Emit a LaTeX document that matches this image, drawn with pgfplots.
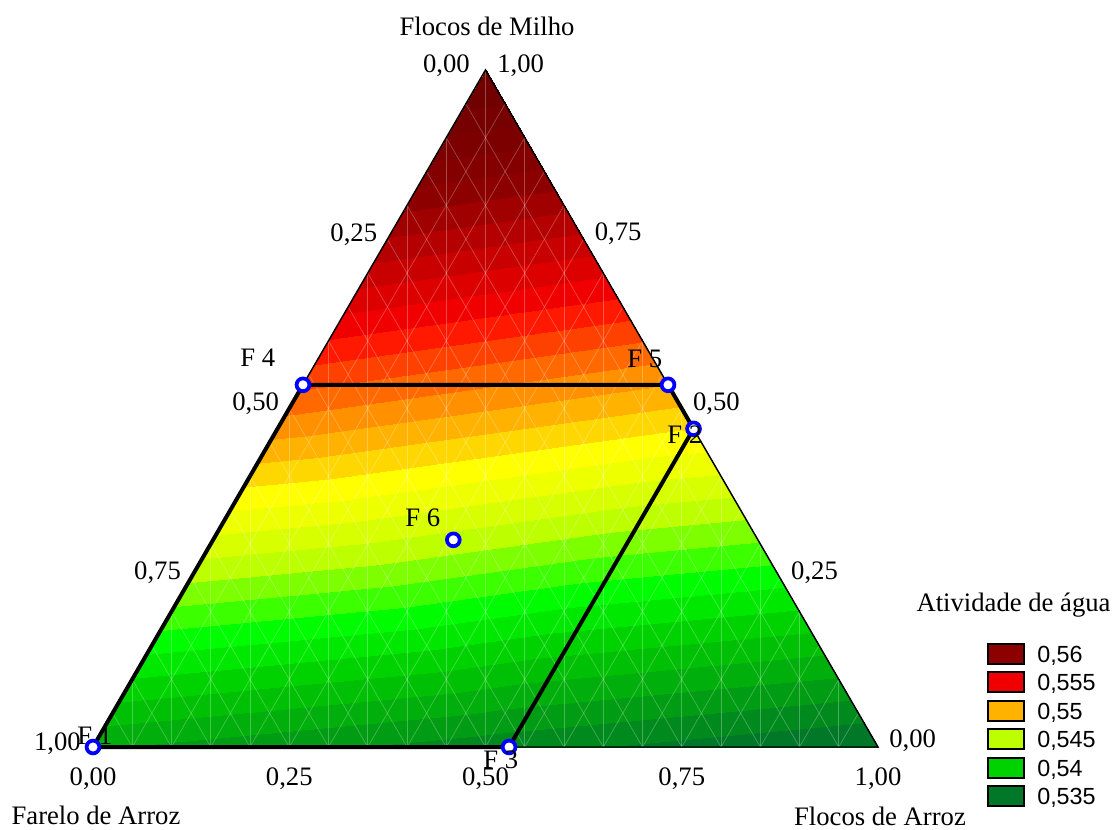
\documentclass[border=0pt]{standalone}
\usepackage{pgfplots}
\usepackage{pgfplotstable}
\pgfplotsset{compat=1.18}
\usepackage{fontspec}
\setmainfont{Liberation Serif}
\newfontfamily\legendfont{Liberation Sans}

% water-activity colour steps, one per 0.001 from 0.534 to 0.565
\pgfplotsset{
  colormap={aw}{
    rgb255=(0,105,50)   % 0.534
    rgb255=(0,120,40)   % 0.535
    rgb255=(0,138,30)
    rgb255=(0,156,20)
    rgb255=(0,174,12)
    rgb255=(0,192,5)
    rgb255=(0,210,0)    % 0.540
    rgb255=(0,232,0)
    rgb255=(0,252,0)
    rgb255=(60,255,0)
    rgb255=(125,255,0)
    rgb255=(190,255,0)  % 0.545
    rgb255=(215,255,0)
    rgb255=(238,255,0)
    rgb255=(255,255,0)
    rgb255=(255,215,0)
    rgb255=(255,178,0)  % 0.550
    rgb255=(255,145,0)
    rgb255=(255,105,0)
    rgb255=(255,65,0)
    rgb255=(255,25,0)
    rgb255=(240,0,0)    % 0.555
    rgb255=(220,0,0)
    rgb255=(200,0,0)
    rgb255=(180,0,0)
    rgb255=(160,0,0)
    rgb255=(140,0,0)    % 0.560
    rgb255=(132,0,0)
    rgb255=(125,0,0)
    rgb255=(119,0,0)
    rgb255=(113,0,0)    % 0.564
    rgb255=(113,0,0)
  }
}

% design points: Farelo de Arroz, Flocos de Milho, Flocos de Arroz
\pgfplotstableread{
farelo milho arroz
1.000  0.000  0.000
0.465  0.535  0.000
0.000  0.535  0.465
0.000  0.470  0.530
0.470  0.000  0.530
1.000  0.000  0.000
}\regiao
\pgfplotstableread{
farelo milho arroz
1.000  0.000  0.000
0.470  0.000  0.530
0.465  0.535  0.000
0.000  0.535  0.465
0.000  0.470  0.530
0.388  0.306  0.306
}\pontos

\tikzset{gridline/.style={white, opacity=0.28, line width=0.5pt}}

\begin{document}
\begin{tikzpicture}
\begin{scope}[x=0.75pt, y=-0.75pt]
  \path[use as bounding box] (0,0) rectangle (1113,830);
\end{scope}

\begin{axis}[
  at={(69.75pt,-560.25pt)}, anchor=south west,
  scale only axis, width=588.75pt, height=507.75pt,
  xmin=0, xmax=1, ymin=0, ymax=1,
  hide axis, clip=false,
  colormap name=aw,
  colormap access=piecewise constant,
  point meta min=0.534, point meta max=0.565,
]
% fitted surface (x = arroz + milho/2, y = milho)
\addplot[patch, patch type=triangle, shader=interp, point meta=explicit]
  coordinates {
    (0,0) [0.5380]   (0.5,0) [0.5364]    (0.25,0.5) [0.5517]
    (0.5,0) [0.5364] (1,0) [0.5349]      (0.75,0.5) [0.5494]
    (0.25,0.5) [0.5517] (0.75,0.5) [0.5494] (0.5,1) [0.5646]
    (0.5,0) [0.5364] (0.75,0.5) [0.5494] (0.25,0.5) [0.5517]
  };

% faint ternary grid
\pgfplotsinvokeforeach{1,...,19}{
  \draw[gridline] (axis cs:{0.05*#1},0) -- (axis cs:{0.05*#1},{min(0.1*#1,2-0.1*#1)});
  \draw[gridline] (axis cs:{0.05*#1},0) -- (axis cs:{(1+0.05*#1)/2},{1-0.05*#1});
  \draw[gridline] (axis cs:{1-0.05*#1},0) -- (axis cs:{(1-0.05*#1)/2},{1-0.05*#1});
}

% triangle outline
\addplot[black, line width=1.1pt] coordinates {(0,0) (1,0) (0.5,1) (0,0)};

% experimental region
\addplot[black, line width=3pt]
  table[x expr=\thisrow{arroz}+0.5*\thisrow{milho}, y=milho] {\regiao};

% design points
\addplot[only marks, blue, line width=2.8pt, mark=*, mark size=4.8pt,
  mark options={draw=blue, fill=white, line width=2.8pt}]
  table[x expr=\thisrow{arroz}+0.5*\thisrow{milho}, y=milho] {\pontos};
\end{axis}

\begin{scope}[x=0.75pt, y=-0.75pt, every node/.style={inner sep=0pt, font=\fontsize{20}{24}\selectfont}]
  % axis titles
  \node[anchor=base] at (487,36) {Flocos de Milho};
  \node[anchor=base] at (96,824) {Farelo de Arroz};
  \node[anchor=base] at (880,825) {Flocos de Arroz};
  % Farelo de Arroz scale (left side)
  \node[anchor=base east] at (470,73) {0,00};
  \node[anchor=base east] at (377.4,241.3) {0,25};
  \node[anchor=base east] at (279.3,410.5) {0,50};
  \node[anchor=base east] at (181.1,579.8) {0,75};
  \node[anchor=base east] at (81,750) {1,00};
  % Flocos de Milho scale (right side)
  \node[anchor=base west] at (497,73) {1,00};
  \node[anchor=base west] at (594.6,240.8) {0,75};
  \node[anchor=base west] at (692.8,410) {0,50};
  \node[anchor=base west] at (790.9,579.3) {0,25};
  \node[anchor=base west] at (889,747) {0,00};
  % Flocos de Arroz scale (bottom)
  \node[anchor=base] at (93,785) {0,00};
  \node[anchor=base] at (289.3,785) {0,25};
  \node[anchor=base] at (485.5,785) {0,50};
  \node[anchor=base] at (681.8,785) {0,75};
  \node[anchor=base] at (878,785) {1,00};
  % point names
  \node[anchor=base west] at (240,367) {F 4};
  \node[anchor=base west] at (627,368) {F 5};
  \node[anchor=base west] at (667,443) {F 2};
  \node[anchor=base west] at (405,526) {F 6};
  \node[anchor=base west] at (77,744) {F 1};
  \node[anchor=base west] at (483,768) {F 3};
  % legend
  \node[anchor=base] at (1013.5,611) {Atividade de água};
  \foreach \c/\t [count=\i from 0] in {
      {rgb,255:red,140;green,0;blue,0}/{0,56},
      {rgb,255:red,240;green,0;blue,0}/{0,555},
      {rgb,255:red,255;green,178;blue,0}/{0,55},
      {rgb,255:red,190;green,255;blue,0}/{0,545},
      {rgb,255:red,0;green,210;blue,0}/{0,54},
      {rgb,255:red,0;green,120;blue,40}/{0,535}} {
    \pgfmathsetmacro{\yc}{653.8+28.5*\i}
    \draw[line width=1.5pt, fill=\c] (988,\yc-10) rectangle (1024,\yc+10);
    \node[anchor=base west, font=\legendfont\fontsize{17.5}{21}\selectfont] at (1037,\yc+8.2) {\t};
  }
\end{scope}
\end{tikzpicture}
\end{document}
